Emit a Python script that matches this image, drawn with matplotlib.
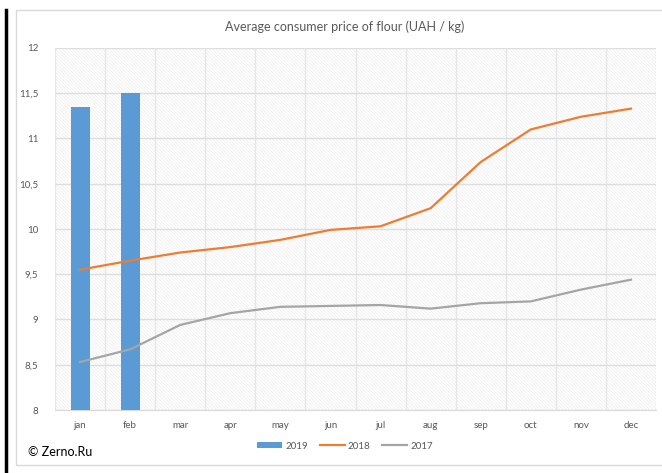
import matplotlib.pyplot as plt
from matplotlib.patches import Rectangle
from matplotlib.lines import Line2D
from matplotlib.ticker import FuncFormatter, MultipleLocator

months = ['jan', 'feb', 'mar', 'apr', 'may', 'jun', 'jul', 'aug', 'sep', 'oct', 'nov', 'dec']
price_2019 = [11.35, 11.5]
price_2018 = [9.55, 9.65, 9.74, 9.80, 9.88, 9.99, 10.03, 10.23, 10.74, 11.10, 11.24, 11.33]
price_2017 = [8.53, 8.67, 8.94, 9.07, 9.14, 9.15, 9.16, 9.12, 9.18, 9.20, 9.33, 9.44]

plt.rcParams['font.family'] = ['Lato', 'DejaVu Sans']
plt.rcParams['hatch.color'] = '#ededed'
plt.rcParams['hatch.linewidth'] = 0.5

fig = plt.figure(figsize=(6.62, 4.73), dpi=100)

# рамка диаграммы и черная линия слева
fig.patches.append(Rectangle((16 / 662, 1 - 465 / 473), 650 / 662, 455 / 473, transform=fig.transFigure,
                             fill=False, edgecolor='#d9d9d9', linewidth=1))
fig.lines.append(Line2D([6 / 662, 6 / 662], [0, 1 - 10 / 473], transform=fig.transFigure,
                        color='black', linewidth=2.5))

ax = fig.add_axes([55 / 662, 1 - 410 / 473, 601 / 662, 362 / 473])
ax.add_patch(Rectangle((0, 0), 1, 1, transform=ax.transAxes, facecolor='white',
                       hatch='\\' * 10, edgecolor='#ededed', linewidth=0, zorder=0))

x = list(range(len(months)))
b19 = ax.bar(x[:len(price_2019)], price_2019, width=0.38, color='#5b9bd5', zorder=3, label='2019')
l18, = ax.plot(x, price_2018, color='#ed7d31', linewidth=1.6, zorder=4, label='2018')
l17, = ax.plot(x, price_2017, color='#a5a5a5', linewidth=1.6, zorder=4, label='2017')

ax.set_xlim(-0.5, 11.5)
ax.set_ylim(8, 12)
ax.set_xticks(x)
ax.set_xticklabels(months)
ax.yaxis.set_major_locator(MultipleLocator(0.5))
ax.yaxis.set_major_formatter(FuncFormatter(lambda v, p: ('%g' % v).replace('.', ',')))
ax.xaxis.set_minor_locator(MultipleLocator(0.5))
ax.grid(which='major', axis='y', color='#dedede', linewidth=1, zorder=1)
ax.grid(which='minor', axis='x', color='#e6e6e6', linewidth=1, zorder=1)
ax.set_axisbelow(True)
ax.tick_params(axis='both', which='both', length=0, labelsize=7, colors='#595959')
ax.tick_params(axis='x', pad=8)
ax.tick_params(axis='y', pad=12)
for s in ['top', 'right', 'left']:
    ax.spines[s].set_visible(False)
ax.spines['bottom'].set_color('#d9d9d9')

fig.text(345 / 662, 1 - 27 / 473, 'Average consumer price of flour (UAH / kg)', ha='center', va='center',
         fontsize=9, color='#595959')
fig.text(28 / 662, 1 - 452 / 473, '© Zerno.Ru', ha='left', va='center', fontsize=9, color='black')

fig.legend(handles=[b19, l18, l17], loc='center', bbox_to_anchor=(345 / 662, 1 - 446 / 473), ncol=3,
           frameon=False, fontsize=7, labelcolor='#595959', handlelength=2.6, handleheight=0.6,
           columnspacing=1.2, handletextpad=0.3)

fig.savefig('out.png', dpi=100)
